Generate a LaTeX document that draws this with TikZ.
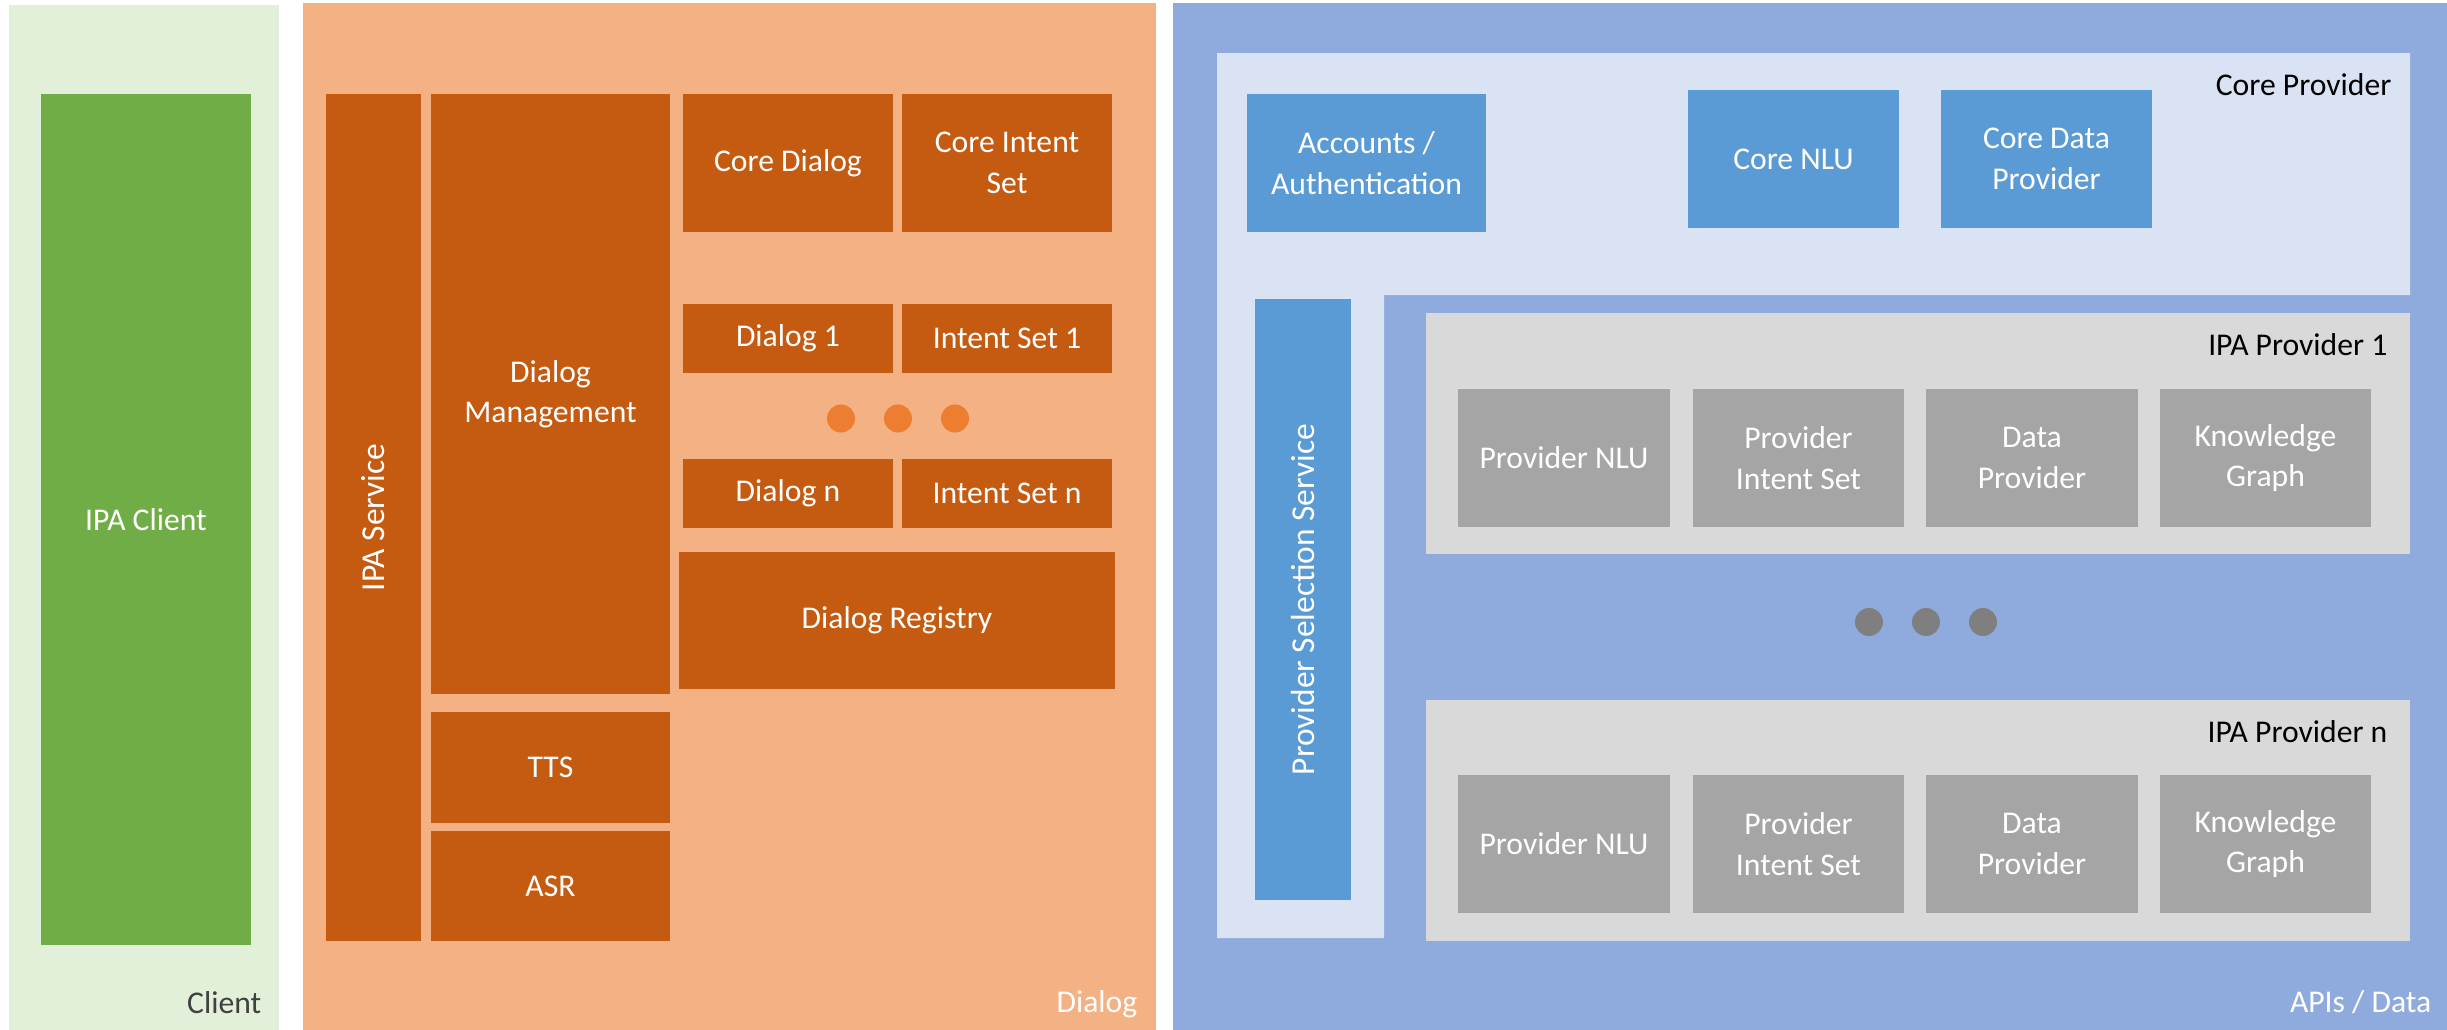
\documentclass[tikz,border=0pt]{standalone}
\usepackage{fontspec}
\setmainfont{Carlito}
\usepackage{xcolor}
\usepackage{tikz}

\definecolor{clientbg}{HTML}{E2F0D9}
\definecolor{clientgreen}{HTML}{70AD47}
\definecolor{dialogbg}{HTML}{F4B183}
\definecolor{dialogbox}{HTML}{C55A11}
\definecolor{dialogdot}{HTML}{ED7D31}
\definecolor{apibg}{HTML}{8FAADC}
\definecolor{corebg}{HTML}{DAE3F3}
\definecolor{apibox}{HTML}{5B9BD5}
\definecolor{provbg}{HTML}{D9D9D9}
\definecolor{provbox}{HTML}{A5A5A5}
\definecolor{provdot}{HTML}{7F7F7F}
\definecolor{darktext}{HTML}{404040}

\newcommand\boxfont{\fontsize{9}{11.5}\selectfont}
\newcommand\sidefont{\fontsize{9.5}{11.5}\selectfont}

\begin{document}
\begin{tikzpicture}[x=0.01cm, y=-0.01cm,
    textbox/.style={rectangle, inner sep=0pt, text=white, align=center, font=\boxfont},
    orangebox/.style={textbox, fill=dialogbox},
    bluebox/.style={textbox, fill=apibox},
    graybox/.style={textbox, fill=provbox, minimum width=2.11cm, minimum height=1.38cm},
    panellabel/.style={anchor=base east, inner sep=0pt, font=\boxfont},
    dotnode/.style={circle, inner sep=0pt, minimum size=0.28cm}]
    \fill[white] (0,0) rectangle (2447,1030);
    \useasboundingbox (0,0) rectangle (2447,1030);

    % client
    \fill[clientbg] (9,5) rectangle (279,1030);
    \node[textbox, fill=clientgreen, minimum width=2.10cm, minimum height=8.51cm] (ipaclient) at (146,519.5) {IPA Client};
    \node[panellabel, text=darktext] (clientlabel) at (262,1013) {Client};

    % dialog
    \fill[dialogbg] (303,3) rectangle (1156,1030);
    \node[orangebox, rotate=90, font=\sidefont, minimum width=8.47cm, minimum height=0.95cm] (ipaservice) at (373.5,517.5) {IPA Service};
    \node[orangebox, minimum width=2.39cm, minimum height=6.00cm] (dialogmgmt) at (550.5,394) {Dialog\\Management};
    \node[orangebox, minimum width=2.39cm, minimum height=1.11cm] (tts) at (550.5,767.5) {TTS};
    \node[orangebox, minimum width=2.39cm, minimum height=1.10cm] (asr) at (550.5,886) {ASR};
    \node[orangebox, minimum width=2.10cm, minimum height=1.38cm] (coredialog) at (788,163) {Core Dialog};
    \node[orangebox, minimum width=2.10cm, minimum height=1.38cm] (coreintent) at (1007,163) {Core Intent\\Set};
    \node[orangebox, minimum width=2.10cm, minimum height=0.69cm] (dialogone) at (788,338.5) {Dialog 1};
    \node[orangebox, minimum width=2.10cm, minimum height=0.69cm] (intentone) at (1007,338.5) {Intent Set 1};
    \node[dotnode, fill=dialogdot] (dialogdota) at (841,418.5) {};
    \node[dotnode, fill=dialogdot] (dialogdotb) at (898,418.5) {};
    \node[dotnode, fill=dialogdot] (dialogdotc) at (955,418.5) {};
    \node[orangebox, minimum width=2.10cm, minimum height=0.69cm] (dialogn) at (788,493.5) {Dialog n};
    \node[orangebox, minimum width=2.10cm, minimum height=0.69cm] (intentn) at (1007,493.5) {Intent Set n};
    \node[orangebox, minimum width=4.36cm, minimum height=1.37cm] (registry) at (897,620.5) {Dialog Registry};
    \node[panellabel, text=white] (dialoglabel) at (1138,1012) {Dialog};

    % apis / data
    \fill[apibg] (1173,3) rectangle (2447,1030);
    \fill[corebg] (1217,53) -- (2410,53) -- (2410,295) -- (1384,295) -- (1384,938) -- (1217,938) -- cycle;
    \node[bluebox, minimum width=2.39cm, minimum height=1.38cm] (accounts) at (1366.5,163) {Accounts /\\Authentication};
    \node[bluebox, minimum width=2.11cm, minimum height=1.38cm] (corenlu) at (1793.5,159) {Core NLU};
    \node[bluebox, minimum width=2.11cm, minimum height=1.38cm] (coredata) at (2046.5,159) {Core Data\\Provider};
    \node[panellabel] (corelabel) at (2392,95) {Core Provider};
    \node[bluebox, rotate=90, font=\sidefont, minimum width=6.01cm, minimum height=0.96cm] (selection) at (1303,599.5) {Provider Selection Service};

    \fill[provbg] (1426,313) rectangle (2410,554);
    \node[panellabel] (provonelabel) at (2388,355) {IPA Provider 1};
    \node[graybox] (provnluone) at (1564,458) {Provider NLU};
    \node[graybox] (provintentone) at (1798.5,458) {Provider\\Intent Set};
    \node[graybox] (provdataone) at (2032,458) {Data\\Provider};
    \node[graybox] (provgraphone) at (2265.5,458) {Knowledge\\Graph};

    \node[dotnode, fill=provdot] (provdota) at (1869,622) {};
    \node[dotnode, fill=provdot] (provdotb) at (1926,622) {};
    \node[dotnode, fill=provdot] (provdotc) at (1983,622) {};

    \fill[provbg] (1426,700) rectangle (2410,941);
    \node[panellabel] (provnlabel) at (2388,742) {IPA Provider n};
    \node[graybox] (provnlun) at (1564,844) {Provider NLU};
    \node[graybox] (provintentn) at (1798.5,844) {Provider\\Intent Set};
    \node[graybox] (provdatan) at (2032,844) {Data\\Provider};
    \node[graybox] (provgraphn) at (2265.5,844) {Knowledge\\Graph};
    \node[panellabel, text=white] (apilabel) at (2432,1012) {APIs / Data};
\end{tikzpicture}
\end{document}
